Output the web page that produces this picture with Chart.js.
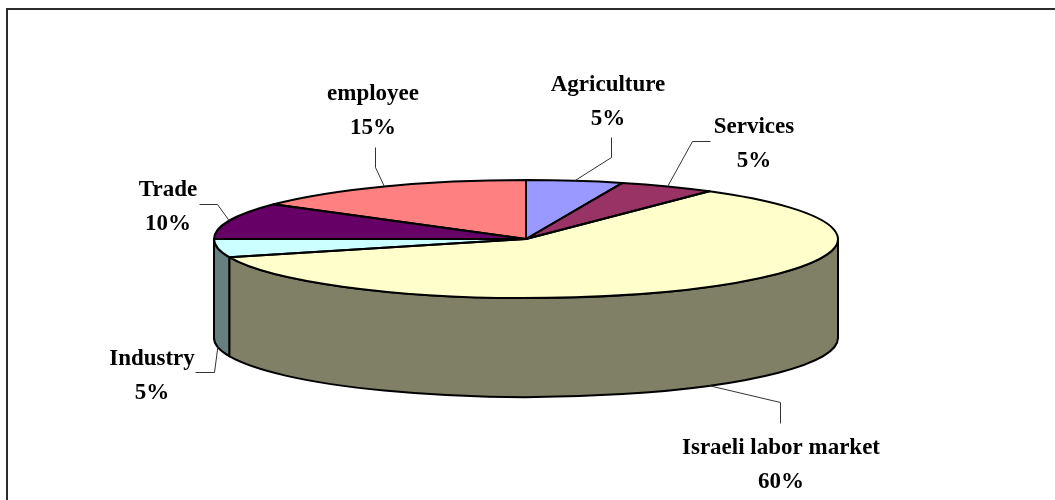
<!DOCTYPE html>
<html>
<head>
<meta charset="utf-8">
<style>
  html, body { margin: 0; padding: 0; background: #fff; }
  canvas { display: block; }
</style>
<script src="https://cdn.jsdelivr.net/npm/chart.js@4/dist/chart.umd.min.js"></script>
</head>
<body>
<canvas id="chart" width="1055" height="500"></canvas>
<script>
const categories = ['Agriculture', 'Services', 'Israeli labor market', 'Industry', 'Trade', 'employee']
const values = [5, 5, 60, 5, 10, 15]

const topColors = ['#9999FF', '#993366', '#FFFFCC', '#CCFFFF', '#660066', '#FF8080']
const sideColors = ['#4C4C80', '#4C1933', '#808066', '#668080', '#330033', '#804040']

const squash = 59 / 312
const depth = 99
const lineHeight = 34

// label centre (x, first line y) and the elbow of its leader line
const labelBoxes = [
    { x: 608, y: 85, leader: [[611, 137], [611, 157]] },
    { x: 754, y: 127, leader: [[710, 141], [692, 141]] },
    { x: 781, y: 448, leader: [[780, 423], [780, 402]] },
    { x: 152, y: 359, leader: [[195, 372], [214, 372]] },
    { x: 168, y: 190, leader: [[199, 204], [217, 204]] },
    { x: 373, y: 94, leader: [[375, 147], [375, 167]] }
]

// is a point at this canvas angle on the front half of the pie?
function frontRange(arc) {
    const from = Math.max(arc.startAngle, 0)
    const to = Math.min(arc.endAngle, Math.PI)
    return from < to ? [from, to] : null
}

const pie3d = {
    id: 'pie3d',
    beforeDraw(chart) {
        const ctx = chart.ctx
        ctx.save()
        // frame runs off the right and bottom of the picture
        ctx.strokeStyle = '#2b2b2b'
        ctx.lineWidth = 2
        ctx.strokeRect(7, 9, 1060, 500)
        ctx.restore()
    },
    beforeDatasetsDraw(chart) {
        const ctx = chart.ctx
        const arcs = chart.getDatasetMeta(0).data
        ctx.save()
        ctx.lineWidth = 2
        ctx.lineJoin = 'round'
        ctx.strokeStyle = '#000'
        arcs.forEach((arc, i) => {
            const range = frontRange(arc)
            if (!range) return
            const rx = arc.outerRadius, ry = rx * squash
            ctx.beginPath()
            ctx.ellipse(arc.x, arc.y, rx, ry, 0, range[0], range[1])
            ctx.ellipse(arc.x, arc.y + depth, rx, ry, 0, range[1], range[0], true)
            ctx.closePath()
            ctx.fillStyle = sideColors[i]
            ctx.fill()
            ctx.stroke()
        })
        ctx.restore()

        // flatten the library's own arcs into the top face
        const first = arcs[0]
        ctx.save()
        ctx.translate(first.x, first.y)
        ctx.scale(1, squash)
        ctx.translate(-first.x, -first.y)
    },
    afterDatasetsDraw(chart) {
        const ctx = chart.ctx
        ctx.restore()
        const arcs = chart.getDatasetMeta(0).data
        ctx.save()
        ctx.lineWidth = 2
        ctx.lineJoin = 'round'
        ctx.strokeStyle = '#000'
        arcs.forEach(arc => {
            const rx = arc.outerRadius, ry = rx * squash
            ctx.beginPath()
            ctx.moveTo(arc.x, arc.y)
            ctx.ellipse(arc.x, arc.y, rx, ry, 0, arc.startAngle, arc.endAngle)
            ctx.closePath()
            ctx.stroke()
        })
        ctx.restore()
    },
    afterDraw(chart) {
        const ctx = chart.ctx
        const arcs = chart.getDatasetMeta(0).data
        ctx.save()
        arcs.forEach((arc, i) => {
            const box = labelBoxes[i]
            const mid = (arc.startAngle + arc.endAngle) / 2
            const rx = arc.outerRadius, ry = rx * squash
            const onFront = Math.sin(mid) > 0
            const endX = arc.x + rx * Math.cos(mid)
            const endY = arc.y + ry * Math.sin(mid) + (onFront ? depth : 0)

            ctx.strokeStyle = '#333'
            ctx.lineWidth = 1
            ctx.beginPath()
            ctx.moveTo(box.leader[0][0] + 0.5, box.leader[0][1] + 0.5)
            ctx.lineTo(box.leader[1][0] + 0.5, box.leader[1][1] + 0.5)
            ctx.lineTo(endX, endY)
            ctx.stroke()

            ctx.fillStyle = '#000'
            ctx.font = 'bold 23px "Liberation Serif"'
            ctx.textAlign = 'center'
            ctx.textBaseline = 'middle'
            ctx.fillText(categories[i], box.x, box.y)
            ctx.fillText(values[i] + '%', box.x, box.y + lineHeight)
        })
        ctx.restore()
    }
}

new Chart(document.getElementById('chart'), {
    type: 'pie',
    data: {
        labels: categories,
        datasets: [{
            data: values,
            backgroundColor: topColors,
            borderWidth: 0,
            clip: false
        }]
    },
    options: {
        responsive: false,
        animation: false,
        radius: 312,
        layout: { padding: { right: 3, bottom: 22 } },
        plugins: {
            legend: { display: false },
            tooltip: { enabled: false }
        }
    },
    plugins: [pie3d]
})
</script>
</body>
</html>
